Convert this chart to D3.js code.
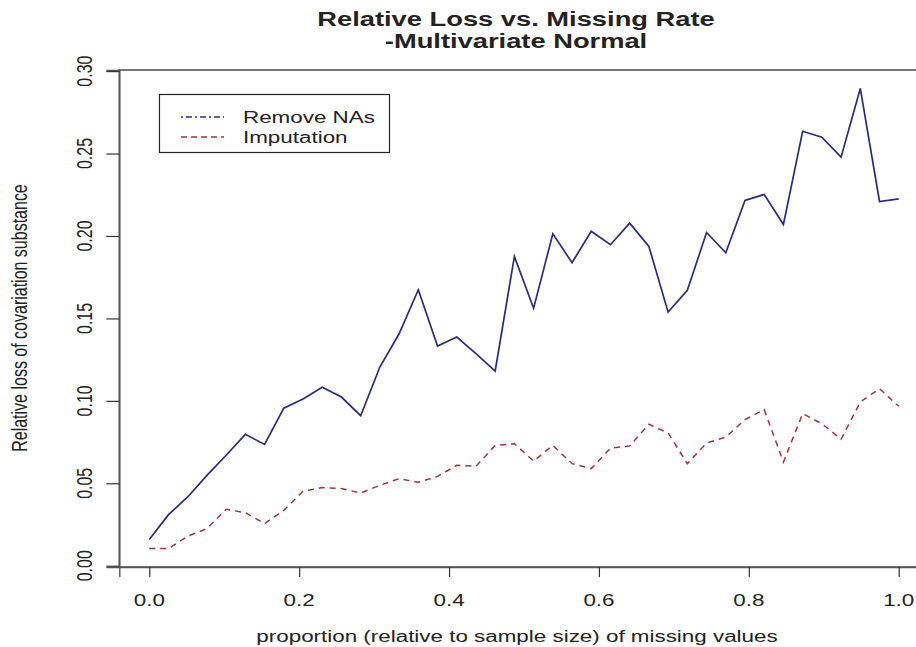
<!DOCTYPE html>
<html>
<head>
<meta charset="utf-8">
<script src="https://cdn.jsdelivr.net/npm/d3@7"></script>
<style>
  html, body { margin: 0; padding: 0; background: #fff; }
  svg { display: block; }
  text { font-family: "Liberation Sans", Arial, sans-serif; fill: #222; }
</style>
</head>
<body>
<svg id="chart" width="916" height="647"></svg>
<script>
// ---- data ----
const proportions = d3.range(40).map(i => i / 39); // 40 equally spaced missing rates 0..1
const removeNAs = [0.0159, 0.0310, 0.0417, 0.0548, 0.0670, 0.0797, 0.0736, 0.0956, 0.1011, 0.1082,
                   0.1023, 0.0910, 0.1205, 0.1407, 0.1674, 0.1332, 0.1387, 0.1286, 0.1181, 0.1876,
                   0.1562, 0.2013, 0.1838, 0.2029, 0.1947, 0.2078, 0.1936, 0.1538, 0.1670, 0.2021,
                   0.1898, 0.2215, 0.2252, 0.2070, 0.2635, 0.2599, 0.2478, 0.2895, 0.2209, 0.2225];
const imputation = [0.0104, 0.0104, 0.0179, 0.0225, 0.0342, 0.0322, 0.0256, 0.0336, 0.0452, 0.0474,
                    0.0468, 0.0441, 0.0488, 0.0528, 0.0506, 0.0542, 0.0609, 0.0603, 0.0730, 0.0740,
                    0.0635, 0.0730, 0.0619, 0.0589, 0.0713, 0.0726, 0.0858, 0.0805, 0.0619, 0.0744,
                    0.0780, 0.0886, 0.0947, 0.0629, 0.0922, 0.0862, 0.0767, 0.0993, 0.1074, 0.0967];
const xTicks = [0.0, 0.2, 0.4, 0.6, 0.8, 1.0];
const yTicks = [0.00, 0.05, 0.10, 0.15, 0.20, 0.25, 0.30];
const seriesNames = ["Remove NAs", "Imputation"];
const titleLines = ["Relative Loss vs. Missing Rate", "-Multivariate Normal"];
const xLabel = "proportion (relative to sample size) of missing values";
const yLabel = "Relative loss of covariation substance";

// ---- layout ----
const SX = 1.4;          // horizontal stretch of the original picture
const box = {left: 119.3, right: 928.7, top: 70, bottom: 567};
const blueCol = "#2b2b7e", redCol = "#a0343c", axisCol = "#555";

const svg = d3.select("#chart");

const x = d3.scaleLinear().domain([-0.04, 1.04]).range([box.left, box.right]);
const allY = removeNAs.concat(imputation);
const yMin = d3.min(allY), yMax = d3.max(allY), r = yMax - yMin;
const y = d3.scaleLinear().domain([yMin - 0.04 * r, yMax + 0.04 * r]).range([box.bottom, box.top]);

// stretched text helper
function stext(g, str, tx, ty, opts = {}) {
  const rot = opts.rotate ? ` rotate(${opts.rotate})` : "";
  return g.append("text")
    .attr("transform", `translate(${tx},${ty}) scale(${SX},1)${rot}`)
    .attr("text-anchor", opts.anchor || "middle")
    .attr("font-size", opts.size || 16)
    .attr("font-weight", opts.weight || "normal")
    .text(str);
}

// plot box
svg.append("rect")
  .attr("x", box.left).attr("y", box.top)
  .attr("width", box.right - box.left).attr("height", box.bottom - box.top)
  .attr("fill", "none").attr("stroke", axisCol).attr("stroke-width", 1.6);

// x axis
const xAxis = d3.axisBottom(x).tickValues(xTicks).tickSize(10).tickFormat("");
const gx = svg.append("g").attr("transform", `translate(0,${box.bottom})`).call(xAxis);
gx.select(".domain").attr("stroke", axisCol).attr("stroke-width", 1.4);
gx.selectAll(".tick line").attr("stroke", "#333").attr("stroke-width", 1.2);
xTicks.forEach(t => stext(svg, d3.format(".1f")(t), x(t), 606, {size: 16}));

// y axis
const yAxis = d3.axisLeft(y).tickValues(yTicks).tickSize(13).tickFormat("");
const gy = svg.append("g").attr("transform", `translate(${box.left},0)`).call(yAxis);
gy.select(".domain").attr("stroke", axisCol).attr("stroke-width", 1.4);
gy.selectAll(".tick line").attr("stroke", "#333").attr("stroke-width", 1.2);
yTicks.forEach(t => stext(svg, d3.format(".2f")(t), 92, y(t), {size: 16, rotate: -90}));

// lines
const line = d3.line().x((d, i) => x(proportions[i])).y(d => y(d));
svg.append("path").datum(removeNAs)
  .attr("d", line).attr("fill", "none")
  .attr("stroke", blueCol).attr("stroke-width", 1.7).attr("stroke-linejoin", "miter");
svg.append("path").datum(imputation)
  .attr("d", line).attr("fill", "none")
  .attr("stroke", redCol).attr("stroke-width", 1.5).attr("stroke-dasharray", "6,5");

// titles
stext(svg, titleLines[0], 516, 26, {size: 19.5, weight: "bold"});
stext(svg, titleLines[1], 516, 48, {size: 19.5, weight: "bold"});
stext(svg, xLabel, 517, 642, {size: 16});
stext(svg, yLabel, 27, 318, {size: 16, rotate: -90});

// legend
const lg = svg.append("g");
lg.append("rect").attr("x", 159.5).attr("y", 94.5).attr("width", 230).attr("height", 58)
  .attr("fill", "#fff").attr("stroke", "#222").attr("stroke-width", 1.2);
const legendRows = [
  {name: seriesNames[0], color: blueCol, dash: "2,3,6,3", ty: 117},
  {name: seriesNames[1], color: redCol, dash: "6,4", ty: 137}
];
legendRows.forEach(row => {
  lg.append("line").attr("x1", 181).attr("x2", 224).attr("y1", row.ty).attr("y2", row.ty)
    .attr("stroke", row.color).attr("stroke-width", 1.3).attr("stroke-dasharray", row.dash);
  stext(lg, row.name, 243, row.ty + 6, {size: 16, anchor: "start"});
});
</script>
</body>
</html>
